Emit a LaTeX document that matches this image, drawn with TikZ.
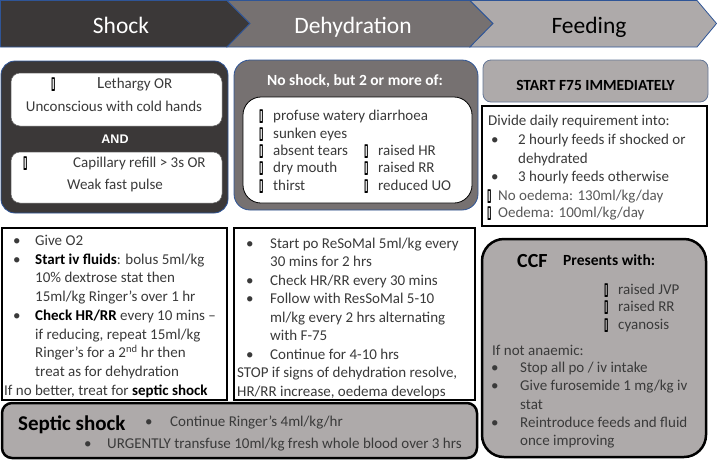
\documentclass[tikz,border=0pt]{standalone}
\usepackage{fontspec}
\usepackage{graphicx}
\setmainfont{Carlito}
\newfontfamily\djv[FakeBold=4]{DejaVu Sans}
\newfontfamily\arialf{Liberation Sans}
\definecolor{cshock}{HTML}{3B3838}
\definecolor{cdehy}{HTML}{767171}
\definecolor{cfeed}{HTML}{AEAAAA}
\definecolor{cblue}{HTML}{2F5597}
\definecolor{ctxt}{HTML}{3A3A3A}
\newcommand\tofu{{\djv\bfseries\fontsize{12}{12}\selectfont\textcolor{black}{\scalebox{0.6}[1.4]{▯}}}}
\newcounter{tn}
\newcommand\T[4][]{\stepcounter{tn}\node[tx,#1] (t\thetn) at (#2,#3) {#4};}
\begin{document}
\begin{tikzpicture}[x=1pt,y=-1pt,
  tx/.style={anchor=mid west, inner sep=0pt, font=\fontsize{15}{18}\selectfont, text=ctxt},
  hdr/.style={anchor=base, inner sep=0pt, font=\fontsize{23.5}{26}\selectfont},
  panel/.style={draw=cblue, line width=0.8pt, rounded corners=14pt},
  wbox/.style={fill=white, draw=black!60, line width=0.5pt, rounded corners=9pt},
  lbox/.style={fill=white, draw=black, line width=1.5pt},
  gbox/.style={fill=cfeed, draw=black, line width=2.5pt},
  bold/.style={font=\fontsize{15.5}{18}\selectfont\bfseries, text=black}]
\useasboundingbox (0,0) rectangle (717,461);
% header chevrons
\filldraw[fill=cshock, draw=cblue, line width=0.8pt] (0.5,0.5) -- (227,0.5) -- (250,23.5) -- (227,47) -- (0.5,47) -- cycle;
\filldraw[fill=cdehy, draw=cblue, line width=0.8pt] (227,0.5) -- (470,0.5) -- (493,23.5) -- (470,47) -- (227,47) -- (250,23.5) -- cycle;
\filldraw[fill=cfeed, draw=cblue, line width=0.8pt] (470,0.5) -- (697,0.5) -- (716.5,23.5) -- (697,47) -- (470,47) -- (493,23.5) -- cycle;
\node[hdr, text=white] (hs) at (121,33) {Shock};
\node[hdr, text=white] (hd) at (353,33) {Dehydration};
\node[hdr, text=black] (hf) at (589,33) {Feeding};

% Shock panel
\filldraw[panel, fill=cshock] (1,61) rectangle (228,213);
\filldraw[wbox] (11,73) rectangle (222,126);
\filldraw[wbox] (11,152) rectangle (222,203);
\T{51}{86}{\tofu}
\T{97}{86}{{\fontsize{17}{18}\selectfont L}ethargy OR}
\T[anchor=mid]{114}{109}{Unconscious with cold hands}
\node[inner sep=0pt, font=\arialf\fontsize{12.5}{14}\selectfont\bfseries, text=white] (and) at (115,139) {AND};
\T{23}{165}{\tofu}
\T{73}{165}{Capillary refill > 3s OR}
\T{67}{187}{Weak fast pulse}

% Dehydration panel
\filldraw[panel, fill=cdehy, rounded corners=16pt] (234,60) rectangle (478,210);
\node[anchor=mid, inner sep=0pt, font=\fontsize{15.5}{18}\selectfont\bfseries, text=white] (ttl) at (355,83) {No shock, but 2 or more of:};
\filldraw[fill=white, draw=black, line width=0.8pt, rounded corners=18pt] (243,97) rectangle (472,203);
\T{259}{118}{\tofu}\T{273}{118}{profuse watery diarrhoea}
\T{259}{136}{\tofu}\T{273}{136}{sunken eyes}
\T{259}{153}{\tofu}\T{273}{153}{absent tears}
\T{259}{170}{\tofu}\T{273}{170}{dry mouth}
\T{259}{188}{\tofu}\T{273}{188}{thirst}
\T{364}{153}{\tofu}\T{378}{153}{raised HR}
\T{364}{170}{\tofu}\T{378}{170}{raised RR}
\T{364}{188}{\tofu}\T{378}{188}{reduced UO}

% Feeding
\filldraw[fill=cfeed, draw=cblue!70!black!70, line width=0.8pt, rounded corners=8pt] (483,60) rectangle (708,102);
\node[inner sep=0pt, bold] (f75) at (595.5,85) {START F75 IMMEDIATELY};
\draw[lbox] (482,106) rectangle (707,226);
\T{488}{123}{Divide daily requirement into:}
\T{491}{142}{•}\T{518}{142}{2 hourly feeds if shocked or}
\T{518}{161}{dehydrated}
\T{491}{179}{•}\T{518}{179}{3 hourly feeds otherwise}
\T{487}{198}{\tofu}\T{498}{198}{\textcolor{black!65}{No oedema: 130ml/kg/day}}
\T{487}{215}{\tofu}\T{498}{215}{\textcolor{black!65}{Oedema: 100ml/kg/day}}

% Shock actions
\draw[lbox] (2,228) rectangle (227,400);
\T{13}{243}{•}\T{35}{243}{Give O2}
\T{13}{261.75}{•}\T{35}{261.75}{\textbf{\textcolor{black}{Start iv fluids}}: bolus 5ml/kg}
\T{35}{280.5}{10\% dextrose stat then}
\T{35}{299.25}{15ml/kg Ringer’s over 1 hr}
\T{13}{318}{•}\T{35}{318}{\textbf{\textcolor{black}{Check HR/RR}} every 10 mins –}
\T{35}{336.75}{if reducing, repeat 15ml/kg}
\T{35}{355.5}{Ringer’s for a 2\textsuperscript{nd} hr then}
\T{35}{374.25}{treat as for dehydration}
\T{4}{393}{If no better, treat for \textbf{\textcolor{black}{septic shock}}}

% Dehydration actions
\draw[lbox] (234,228) rectangle (475,400);
\T{246}{246}{•}\T{270}{246}{Start po ReSoMal 5ml/kg every}
\T{270}{264.5}{30 mins for 2 hrs}
\T{246}{283}{•}\T{270}{283}{Check HR/RR every 30 mins}
\T{246}{301.5}{•}\T{270}{301.5}{Follow with ResSoMal 5-10}
\T{270}{320}{ml/kg every 2 hrs alternating}
\T{270}{338.5}{with F-75}
\T{246}{357}{•}\T{270}{357}{Continue for 4-10 hrs}
\T{237}{375.5}{STOP if signs of dehydration resolve,}
\T{237}{394}{HR/RR increase, oedema develops}

% CCF
\filldraw[gbox, rounded corners=22pt] (482,239) rectangle (706,457);
\node[anchor=west, inner sep=0pt, font=\fontsize{20}{22}\selectfont\bfseries] (ccf) at (517,261) {CCF};
\node[anchor=mid west, inner sep=0pt, font=\fontsize{15.5}{18}\selectfont\bfseries] (pw) at (563,263) {Presents with:};
\T{604}{292}{\tofu}\T{618}{292}{raised JVP}
\T{604}{309}{\tofu}\T{618}{309}{raised RR}
\T{604}{327}{\tofu}\T{618}{327}{cyanosis}
\T{492}{353}{If not anaemic:}
\T{491}{370}{•}\T{520}{370}{Stop all po / iv intake}
\T{491}{388}{•}\T{520}{388}{Give furosemide 1 mg/kg iv}
\T{520}{407}{stat}
\T{491}{425}{•}\T{520}{425}{Reintroduce feeds and fluid}
\T{520}{443}{once improving}

% Septic shock
\filldraw[gbox, rounded corners=10pt] (2,403) rectangle (477,458);
\node[anchor=mid west, inner sep=0pt, font=\fontsize{21}{24}\selectfont\bfseries] (sep) at (18,428) {Septic shock};
\T{145}{424}{•}\T{170}{424}{Continue Ringer’s 4ml/kg/hr}
\T{84}{446}{•}\T{107}{446}{URGENTLY transfuse 10ml/kg fresh whole blood over 3 hrs}
\end{tikzpicture}
\end{document}
